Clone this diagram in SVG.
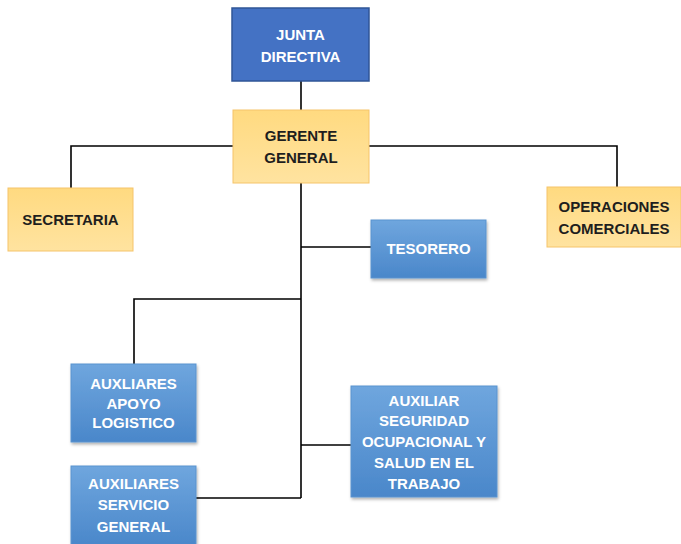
<svg xmlns="http://www.w3.org/2000/svg" width="681" height="544" viewBox="0 0 681 544">
  <defs>
    <linearGradient id="gold" x1="0" y1="0" x2="0" y2="1">
      <stop offset="0" stop-color="#FFDA80"/>
      <stop offset="1" stop-color="#FFE3A0"/>
    </linearGradient>
    <linearGradient id="sky" x1="0" y1="0" x2="0" y2="1">
      <stop offset="0" stop-color="#6FA6DE"/>
      <stop offset="1" stop-color="#4A87CA"/>
    </linearGradient>
    <filter id="shadow" x="-10%" y="-10%" width="125%" height="130%">
      <feDropShadow dx="1" dy="2" stdDeviation="1.5" flood-color="#000" flood-opacity="0.3"/>
    </filter>
  </defs>
  <style>
    text { font-family: "Liberation Sans", Arial, sans-serif; font-weight: bold; font-size: 15px; text-anchor: middle; }
    .dark { fill: #1E1E1E; }
    .light { fill: #FFFFFF; }
    .board { fill: #4472C4; stroke: #2F5597; stroke-width: 1.5; }
    .yellow { fill: url(#gold); stroke: #F5C46A; stroke-width: 1; }
    .blue { fill: url(#sky); stroke: #5A93CF; stroke-width: 1; filter: url(#shadow); }
    .link { fill: none; stroke: #000; stroke-width: 1.6; }
  </style>

  <rect width="681" height="544" fill="#FFFFFF"/>

  <!-- connectors -->
  <g id="connectors">
    <path class="link" d="M301,81 V110"/>
    <path class="link" d="M233,146 H71 V188"/>
    <path class="link" d="M369,146 H617 V187"/>
    <path class="link" d="M301,183 V498"/>
    <path class="link" d="M301,247 H371"/>
    <path class="link" d="M301,299 H134 V364"/>
    <path class="link" d="M301,445 H351"/>
    <path class="link" d="M301,498 H196"/>
  </g>

  <g id="junta-directiva">
    <rect class="board" x="232" y="8" width="137" height="73"/>
    <text class="light" x="300.5" y="40">JUNTA</text>
    <text class="light" x="300.5" y="62">DIRECTIVA</text>
  </g>

  <g id="gerente-general">
    <rect class="yellow" x="233" y="110" width="136" height="73"/>
    <text class="dark" x="301" y="141">GERENTE</text>
    <text class="dark" x="301" y="163">GENERAL</text>
  </g>

  <g id="secretaria">
    <rect class="yellow" x="8" y="188" width="125" height="63"/>
    <text class="dark" x="70.5" y="225">SECRETARIA</text>
  </g>

  <g id="operaciones-comerciales">
    <rect class="yellow" x="547" y="187" width="134" height="60"/>
    <text class="dark" x="614" y="212">OPERACIONES</text>
    <text class="dark" x="614" y="234">COMERCIALES</text>
  </g>

  <g id="tesorero">
    <rect class="blue" x="371" y="220" width="115" height="58"/>
    <text class="light" x="428.5" y="254">TESORERO</text>
  </g>

  <g id="auxiliares-apoyo">
    <rect class="blue" x="71" y="364" width="125" height="78"/>
    <text class="light" x="133.5" y="389">AUXLIARES</text>
    <text class="light" x="133.5" y="409">APOYO</text>
    <text class="light" x="133.5" y="428">LOGISTICO</text>
  </g>

  <g id="auxiliar-seguridad">
    <rect class="blue" x="351" y="386" width="146" height="111"/>
    <text class="light" x="424" y="406">AUXILIAR</text>
    <text class="light" x="424" y="426">SEGURIDAD</text>
    <text class="light" x="424" y="447">OCUPACIONAL Y</text>
    <text class="light" x="424" y="468">SALUD EN EL</text>
    <text class="light" x="424" y="489">TRABAJO</text>
  </g>

  <g id="auxiliares-servicio">
    <rect class="blue" x="71" y="466" width="125" height="80"/>
    <text class="light" x="133.5" y="489">AUXILIARES</text>
    <text class="light" x="133.5" y="510">SERVICIO</text>
    <text class="light" x="133.5" y="532">GENERAL</text>
  </g>
</svg>
